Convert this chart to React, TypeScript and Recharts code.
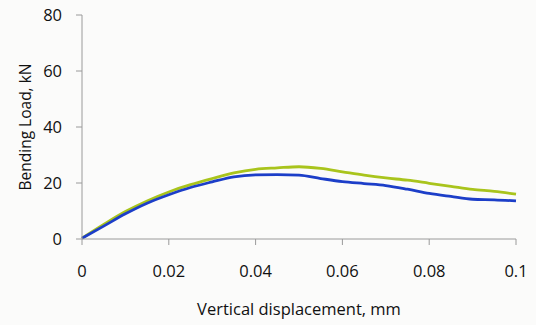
import { LineChart, Line, XAxis, YAxis } from "recharts";

// Bending load vs vertical displacement, two specimens
const displacement = [
  0, 0.005, 0.01, 0.015, 0.02, 0.025, 0.03, 0.035, 0.04, 0.045, 0.05, 0.055,
  0.06, 0.065, 0.07, 0.075, 0.08, 0.085, 0.09, 0.095, 0.1,
];
const loadGreen = [
  0.3, 5.2, 9.8, 13.6, 16.8, 19.4, 21.6, 23.6, 24.9, 25.4, 25.8, 25.2, 24.0,
  22.8, 21.8, 21.0, 19.9, 18.8, 17.7, 17.0, 16.0,
];
const loadBlue = [
  0.3, 4.6, 9.0, 12.8, 15.8, 18.4, 20.4, 22.2, 22.9, 23.0, 22.8, 21.6, 20.5,
  19.8, 19.1, 17.8, 16.3, 15.2, 14.2, 14.0, 13.6,
];
const xTicks = [0, 0.02, 0.04, 0.06, 0.08, 0.1];
const yTicks = [0, 20, 40, 60, 80];

const FONT = "'Open Sans', 'Noto Sans', sans-serif";
const AXIS = "#9a9a9a";
const INK = "#111";

const data = displacement.map((x, i) => ({
  x,
  green: loadGreen[i],
  blue: loadBlue[i],
}));

const fmtX = (v: number) => (v === 0 ? "0" : String(Number(v.toFixed(2))));

export default function App() {
  return (
    <div
      style={{
        position: "absolute",
        left: 0,
        top: 0,
        width: 536,
        height: 325,
        background: "#fbfbfa",
      }}
    >
      <LineChart
        width={536}
        height={325}
        data={data}
        margin={{ top: 15, right: 20, left: 0, bottom: 0 }}
      >
        <XAxis
          dataKey="x"
          type="number"
          domain={[0, 0.1]}
          ticks={xTicks}
          tickFormatter={fmtX}
          height={86}
          stroke={AXIS}
          tickSize={6}
          tickMargin={20}
          tick={{ fill: INK, fontSize: 16.5, fontFamily: FONT, fontWeight: 500 }}
          label={{
            value: "Vertical displacement, mm",
            position: "insideBottom",
            offset: 10,
            fill: INK,
            fontSize: 16.5,
            fontFamily: FONT,
            fontWeight: 500,
          }}
        />
        <YAxis
          type="number"
          domain={[0, 80]}
          ticks={yTicks}
          width={82}
          stroke={AXIS}
          tickSize={6}
          tickMargin={14}
          tick={{ fill: INK, fontSize: 16.5, fontFamily: FONT, fontWeight: 500 }}
          label={{
            content: () => (
              <text
                x={25}
                y={127}
                transform="rotate(-90 25 127)"
                textAnchor="middle"
                dominantBaseline="central"
                fill={INK}
                fontSize={15.5}
                fontWeight={500}
                fontFamily={FONT}
              >
                Bending Load, kN
              </text>
            ),
          }}
        />
        <Line
          type="monotone"
          dataKey="green"
          stroke="#a9c41c"
          strokeWidth={2.8}
          dot={false}
          isAnimationActive={false}
        />
        <Line
          type="monotone"
          dataKey="blue"
          stroke="#1c3ec8"
          strokeWidth={2.8}
          dot={false}
          isAnimationActive={false}
        />
      </LineChart>
    </div>
  );
}
